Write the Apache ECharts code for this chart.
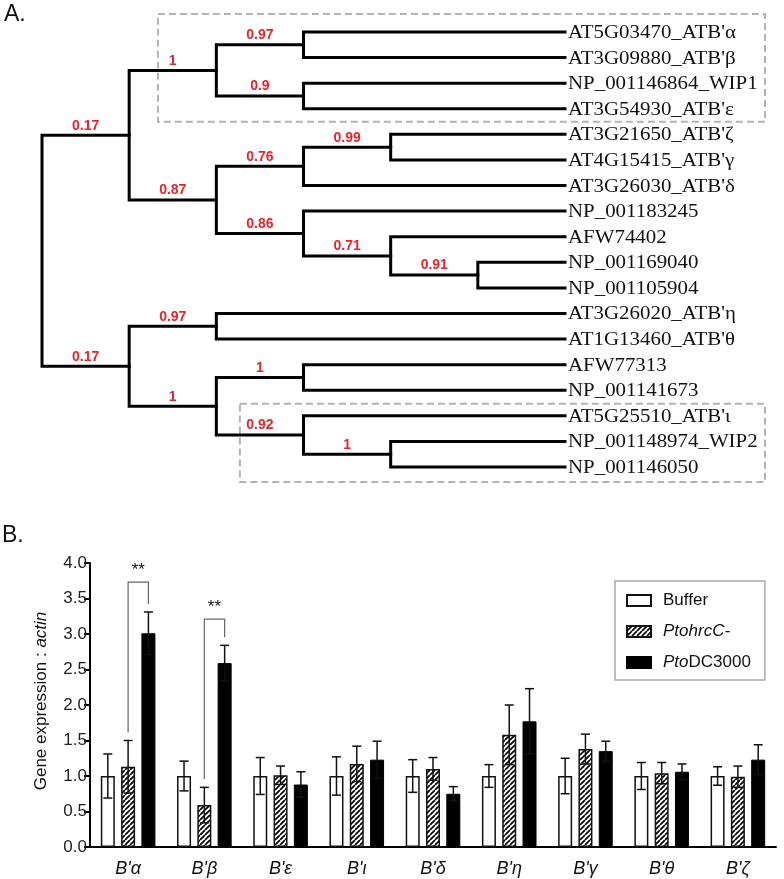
<!DOCTYPE html>
<html><head><meta charset="utf-8">
<script src="https://cdn.jsdelivr.net/npm/echarts@6/dist/echarts.min.js"></script>
<style>html,body{margin:0;padding:0;background:#fff}#c{width:784px;height:879px}</style>
</head><body><div id="c"></div>
<script>
// ---------- Panel A data ----------
const leafNames = ["AT5G03470_ATB'α","AT3G09880_ATB'β","NP_001146864_WIP1","AT3G54930_ATB'ε",
  "AT3G21650_ATB'ζ","AT4G15415_ATB'γ","AT3G26030_ATB'δ","NP_001183245","AFW74402",
  "NP_001169040","NP_001105904","AT3G26020_ATB'η","AT1G13460_ATB'θ","AFW77313",
  "NP_001141673","AT5G25510_ATB'ι","NP_001148974_WIP2","NP_001146050"];
// topology with support values (leaf indices refer to leafNames)
const treeNewick = "((((0,1)0.97,(2,3)0.9)1,(((4,5)0.99,6)0.76,(7,(8,(9,10)0.91)0.71)0.86)0.87)0.17,((11,12)0.97,((13,14)1,(15,(16,17)1)0.92)1)0.17)";
const boxedLeafRanges = [[0,3],[15,17]];

// ---------- Panel B data ----------
const categories = ["B'α","B'β","B'ε","B'ι","B'δ","B'η","B'γ","B'θ","B'ζ"];
const seriesNames = ["Buffer","PtohrcC-","PtoDC3000"];
const bufferMean = [1.00,1.00,1.00,1.00,1.00,1.00,1.00,1.00,1.00];
const bufferErr  = [0.31,0.21,0.26,0.27,0.23,0.16,0.25,0.19,0.13];
const hrcMean    = [1.13,0.59,1.01,1.17,1.10,1.58,1.38,1.04,0.99];
const hrcErr     = [0.37,0.25,0.13,0.25,0.16,0.42,0.21,0.15,0.15];
const dcMean     = [3.01,2.59,0.88,1.23,0.75,1.77,1.35,1.06,1.23];
const dcErr      = [0.30,0.25,0.18,0.26,0.10,0.46,0.14,0.11,0.21];
const yTickLabels = ["0.0","0.5","1.0","1.5","2.0","2.5","3.0","3.5","4.0"];
const sigCategory = [0,1];
const sigTop = [3.73,3.21];
const sigText = ["**","**"];

// ---------- tree layout ----------
function parseNewick(s){let i=0;
  function node(){
    if(s[i]==='('){i++;const ch=[node()];while(s[i]===','){i++;ch.push(node());}i++;
      let lab='';while(i<s.length&&/[0-9.]/.test(s[i]))lab+=s[i++];return {children:ch,support:lab};}
    let lab='';while(i<s.length&&/[0-9]/.test(s[i]))lab+=s[i++];return {leaf:+lab};
  }
  return node();}
const MAXD = 6;
const root = parseNewick(treeNewick);
const clades = [];
function layout(n,d,pd){
  n.parentDepth = pd;
  if(n.children){n.depth=d;n.children.forEach(c=>layout(c,d+1,d));
    n.y=(n.children[0].y+n.children[n.children.length-1].y)/2;clades.push(n);}
  else {n.depth=MAXD;n.y=n.leaf;}
}
layout(root,0,null);
const treeData = clades.map(n=>[n.depth,n.children[0].y,n.children[1].y,n.children[0].depth,n.children[1].depth]);
const supportClades = clades.filter(n=>n.support!=='');
const supportData = supportClades.map(n=>[(n.parentDepth+n.depth)/2,n.y]);
const leafData = leafNames.map((_,i)=>[MAXD,i]);

// ---------- styles ----------
const SANS = "'Liberation Sans', Arial, sans-serif";
const SERIF = "'Liberation Serif', 'Times New Roman', serif";
const BAR_W = 14, BAR_GAP = 0.45;
const BAR_STEP = BAR_W*(1+BAR_GAP);

function hatch(){
  const s=5,c=document.createElement('canvas');c.width=c.height=s;
  const g=c.getContext('2d');g.fillStyle='#fff';g.fillRect(0,0,s,s);
  g.strokeStyle='#000';g.lineWidth=1.7;g.beginPath();
  for(const k of [-1,0,1]){g.moveTo(k*s,s);g.lineTo(k*s+s,0);}
  g.stroke();return c;
}

const errData = [];
[[bufferMean,bufferErr],[hrcMean,hrcErr],[dcMean,dcErr]].forEach((p,s)=>{
  categories.forEach((_,i)=>errData.push([i,p[0][i],p[1][i],s]));
});
const sigData = sigCategory.map((c,k)=>[c,sigTop[k],hrcMean[c]+hrcErr[c],dcMean[c]+dcErr[c]]);

const boxPad = [{l:1.33,t:18,b:13},{l:2.27,t:12,b:15}];

const option = {
  animation:false,
  backgroundColor:'#fff',
  grid:[
    {left:42,top:32,width:523,height:435,show:false},
    {left:90,top:563,width:686,height:284,show:false}
  ],
  xAxis:[
    {gridIndex:0,type:'value',min:0,max:MAXD,show:false},
    {gridIndex:1,type:'category',data:categories,
     axisLine:{lineStyle:{color:'#000',width:2}},
     axisTick:{alignWithLabel:true,length:4,lineStyle:{color:'#000',width:2}},
     axisLabel:{fontStyle:'italic',fontFamily:SANS,fontSize:18,color:'#111',margin:13}}
  ],
  yAxis:[
    {gridIndex:0,type:'value',min:0,max:leafNames.length-1,inverse:true,show:false},
    {gridIndex:1,type:'value',min:0,max:4,interval:0.5,
     axisLine:{show:true,lineStyle:{color:'#000',width:2}},
     axisTick:{show:true,length:6,lineStyle:{color:'#000',width:2}},
     splitLine:{show:false},
     axisLabel:{fontFamily:SANS,fontSize:17,color:'#222',margin:3,
       formatter:v=>yTickLabels[Math.round(v/0.5)]}}
  ],
  legend:{
    data:seriesNames,orient:'vertical',left:615,top:581,
    padding:[10,14,8,11],itemWidth:24,itemHeight:11,itemGap:12,
    borderColor:'#aaa',borderWidth:1.5,selectedMode:false,icon:'rect',
    formatter:n=>n==='PtohrcC-'?'{i|PtohrcC-}':(n==='PtoDC3000'?'{i|Pto}DC3000':n),
    textStyle:{fontFamily:SANS,fontSize:17,color:'#111',lineHeight:19,padding:[0,0,0,7],
      rich:{i:{fontFamily:SANS,fontSize:17,fontStyle:'italic',color:'#111',lineHeight:19}}}
  },
  graphic:[
    {type:'text',left:4,top:3,style:{text:'A.',font:'23px '+SANS,fill:'#111'}},
    {type:'text',left:2,top:524,style:{text:'B.',font:'23px '+SANS,fill:'#111'}},
    {type:'text',x:41,y:701,rotation:Math.PI/2,
     style:{text:'Gene expression : {i|actin}',font:'17px '+SANS,fill:'#111',align:'center',verticalAlign:'middle',
       rich:{i:{fontStyle:'italic',fontSize:17,fontFamily:SANS,fill:'#111'}}}}
  ],
  series:[
    {type:'custom',xAxisIndex:0,yAxisIndex:0,silent:true,z:1,
     data:boxedLeafRanges.map((r,k)=>[k,r[0],r[1]]),
     renderItem:(p,api)=>{
       const k=api.value(0),a=api.value(1),b=api.value(2),bp=boxPad[k];
       const p0=api.coord([bp.l,a]),p1=api.coord([bp.l,b]);
       const x0=p0[0],y0=p0[1]-bp.t,y1=p1[1]+bp.b,x1=765;
       return {type:'rect',shape:{x:x0,y:y0,width:x1-x0,height:y1-y0},
         style:{fill:null,stroke:'#b3b3b3',lineWidth:2,lineDash:[7,4]}};
     }},
    {type:'custom',xAxisIndex:0,yAxisIndex:0,silent:true,z:3,data:treeData,
     renderItem:(p,api)=>{
       const d=api.value(0),y0=api.value(1),y1=api.value(2),d0=api.value(3),d1=api.value(4);
       const pts=[api.coord([d0,y0]),api.coord([d,y0]),api.coord([d,y1]),api.coord([d1,y1])];
       return {type:'polyline',shape:{points:pts},
         style:{stroke:'#000',lineWidth:3,fill:null,lineJoin:'miter',lineCap:'square'}};
     }},
    {type:'custom',xAxisIndex:0,yAxisIndex:0,silent:true,z:4,data:supportData,
     renderItem:(p,api)=>{
       const pt=api.coord([api.value(0),api.value(1)]);
       return {type:'text',x:pt[0],y:pt[1]-9.5,
         style:{text:supportClades[p.dataIndex].support,font:'bold 14px '+SANS,fill:'#e3262b',
           align:'center',verticalAlign:'middle'}};
     }},
    {type:'custom',xAxisIndex:0,yAxisIndex:0,silent:true,z:4,data:leafData,
     renderItem:(p,api)=>{
       const pt=api.coord([api.value(0),api.value(1)]);
       return {type:'text',x:pt[0]+3,y:pt[1]+1,scaleX:1.1,
         style:{text:leafNames[p.dataIndex],font:'19px '+SERIF,fill:'#111',
           align:'left',verticalAlign:'middle'}};
     }},
    {name:'Buffer',type:'bar',xAxisIndex:1,yAxisIndex:1,data:bufferMean,barWidth:BAR_W,barGap:(BAR_GAP*100)+'%',
     itemStyle:{color:'#fff',borderColor:'#111',borderWidth:1.5}},
    {name:'PtohrcC-',type:'bar',xAxisIndex:1,yAxisIndex:1,data:hrcMean,barWidth:BAR_W,barGap:(BAR_GAP*100)+'%',
     itemStyle:{color:{image:hatch(),repeat:'repeat'},borderColor:'#111',borderWidth:1.5}},
    {name:'PtoDC3000',type:'bar',xAxisIndex:1,yAxisIndex:1,data:dcMean,barWidth:BAR_W,barGap:(BAR_GAP*100)+'%',
     itemStyle:{color:'#000',borderColor:'#000',borderWidth:1}},
    {type:'custom',xAxisIndex:1,yAxisIndex:1,silent:true,z:5,data:errData,
     renderItem:(p,api)=>{
       const c=api.value(0),m=api.value(1),e=api.value(2),s=api.value(3);
       const dx=(s-1)*BAR_STEP;
       const top=api.coord([c,m+e]),bot=api.coord([c,m-e]);
       const x=top[0]+dx,cw=4.5;
       const st={stroke:'#111',lineWidth:1.5};
       return {type:'group',children:[
         {type:'line',shape:{x1:x,y1:top[1],x2:x,y2:bot[1]},style:st},
         {type:'line',shape:{x1:x-cw,y1:top[1],x2:x+cw,y2:top[1]},style:st},
         {type:'line',shape:{x1:x-cw,y1:bot[1],x2:x+cw,y2:bot[1]},style:st}
       ]};
     }},
    {type:'custom',xAxisIndex:1,yAxisIndex:1,silent:true,z:5,data:sigData,
     renderItem:(p,api)=>{
       const c=api.value(0);
       const t=api.coord([c,api.value(1)]),l=api.coord([c,api.value(2)]),r=api.coord([c,api.value(3)]);
       const xl=t[0],xr=t[0]+BAR_STEP;
       const st={stroke:'#666',lineWidth:1.2,fill:null};
       return {type:'group',children:[
         {type:'polyline',shape:{points:[[xl,l[1]-8],[xl,t[1]],[xr,t[1]],[xr,r[1]-8]]},style:st},
         {type:'text',x:(xl+xr)/2,y:t[1]-3,style:{text:sigText[p.dataIndex],font:'17px '+SANS,fill:'#111',align:'center',verticalAlign:'bottom'}}
       ]};
     }}
  ]
};
const chart = echarts.init(document.getElementById('c'));
chart.setOption(option);
</script></body></html>
